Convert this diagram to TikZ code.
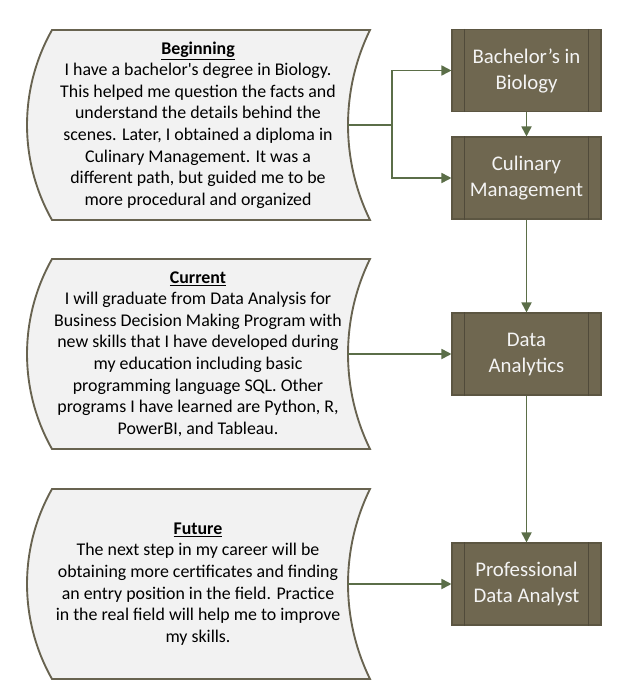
\documentclass[tikz,border=0pt]{standalone}
\usepackage{fontspec}
\setmainfont{Carlito}
\usetikzlibrary{arrows.meta}
\definecolor{boxfill}{RGB}{111,103,80}
\definecolor{boxline}{RGB}{92,86,66}
\definecolor{innerline}{RGB}{80,74,58}
\definecolor{connc}{RGB}{91,110,72}
\definecolor{shapefill}{RGB}{242,242,242}
\definecolor{shapeline}{RGB}{104,99,80}
\definecolor{boxtext}{RGB}{244,244,244}
\tikzset{
  shapestyle/.style={draw=shapeline,fill=shapefill,line width=1.4pt},
  txt/.style={align=center,inner sep=0pt,font=\fontsize{13.4pt}{16.2pt}\selectfont},
  stepbox/.style={draw=boxline,fill=boxfill,line width=0.8pt,minimum width=111.75pt,minimum height=61.5pt,
    inner sep=0pt,align=center,text=boxtext,font=\fontsize{15.6pt}{19.5pt}\selectfont},
  conn/.style={draw=connc,line width=1.3pt,-{Triangle[length=7.5pt,width=7.5pt]}},
  plainconn/.style={draw=connc,line width=1.3pt},
  stored/.pic={\draw[shapestyle] (-146,-95) .. controls (-179.3,-36.1) and (-179.3,36.1) .. (-146,95)
     -- (172,95) .. controls (142.7,35.1) and (142.7,-35.1) .. (172,-95) -- cycle;}
}
\begin{document}
\begin{tikzpicture}[x=0.75pt,y=-0.75pt]
\useasboundingbox (0,0) rectangle (628,700);
% left shapes
\pic at (198,125) {stored};
\pic at (198,354) {stored};
\pic at (198,584) {stored};
\node[txt] (t1) at (198,125) {\underline{\textbf{Beginning}}\\
I have a bachelor\textquotesingle s degree in Biology.\\
This helped me question the facts and\\
understand the details behind the\\
scenes. Later, I obtained a diploma in\\
Culinary Management. It was a\\
different path, but guided me to be\\
more procedural and organized};
\node[txt] (t2) at (198,354) {\underline{\textbf{Current}}\\
I will graduate from Data Analysis for\\
Business Decision Making Program with\\
new skills that I have developed during\\
my education including basic\\
programming language SQL. Other\\
programs I have learned are Python, R,\\
PowerBI, and Tableau.};
\node[txt] (t3) at (198,584) {\underline{\textbf{Future}}\\
The next step in my career will be\\
obtaining more certificates and finding\\
an entry position in the field. Practice\\
in the real field will help me to improve\\
my skills.};
\coordinate (e1) at (348,125);
\coordinate (e2) at (348,354);
\coordinate (e3) at (348,584);
\coordinate (j1) at (392,125);
% right boxes
\node[stepbox] (bach) at (526.5,70.5) {Bachelor’s in\\Biology};
\node[stepbox] (cul) at (526.5,178) {Culinary\\Management};
\node[stepbox] (data) at (526.5,354) {Data\\Analytics};
\node[stepbox] (prof) at (526.5,584) {Professional\\Data Analyst};
\foreach \n in {bach,cul,data,prof}{
  \draw[innerline,line width=0.8pt] ([xshift=9.75pt]\n.north west) -- ([xshift=9.75pt]\n.south west);
  \draw[innerline,line width=0.8pt] ([xshift=-9.75pt]\n.north east) -- ([xshift=-9.75pt]\n.south east);
}
% connectors
\draw[plainconn] (e1) -- (j1);
\draw[conn] (j1) |- (bach.west);
\draw[conn] (j1) |- (cul.west);
\draw[conn] (bach.south) -- (cul.north);
\draw[conn] (cul.south) -- (data.north);
\draw[conn] (e2) -- (data.west);
\draw[conn] (data.south) -- (prof.north);
\draw[conn] (e3) -- (prof.west);
\end{tikzpicture}
\end{document}
